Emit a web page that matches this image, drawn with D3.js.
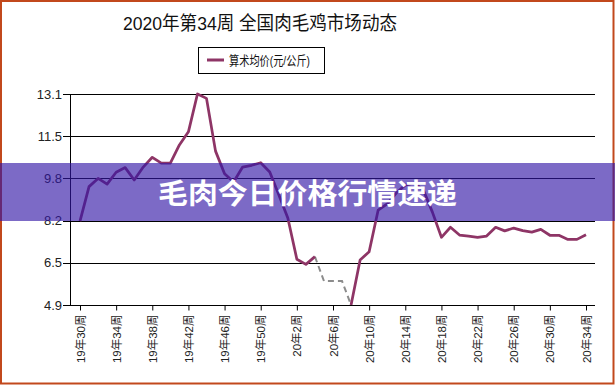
<!DOCTYPE html>
<html>
<head>
<meta charset="utf-8">
<script src="https://cdn.jsdelivr.net/npm/d3@7"></script>
<style>
  body { margin: 0; background: #fff; }
  svg { display: block; font-family: "Liberation Sans", Arial, "Noto Sans CJK SC", sans-serif; }
</style>
</head>
<body>
<div id="chart"></div>
<script>
const width = 615;
const height = 385;

const title = '2020年第34周 全国肉毛鸡市场动态';
const seriesName = '算术均价(元/公斤)';
const banner = '毛肉今日价格行情速递';

// weeks 19年30周 .. 19年52周, 20年1周 .. 20年34周
const weeks19 = d3.range(30, 53).map(w => `19年${w}周`);
const weeks20 = d3.range(1, 35).map(w => `20年${w}周`);
const weeks = weeks19.concat(weeks20);

const prices19 = [8.16, 9.5, 9.82, 9.6, 10.06, 10.24, 9.76, 10.26, 10.64, 10.41, 10.41, 11.12,
  11.63, 13.1, 12.93, 10.88, 10.0, 9.68, 10.26, 10.33, 10.43, 10.07, 9.18];
const prices20 = [8.28, 6.68, 6.48, 6.78, null, null, null, 4.9, 6.65, 6.97, 8.59, 8.83,
  9.25, 9.56, 9.64, 9.37, 8.51, 7.53, 7.92, 7.62, 7.58, 7.53, 7.58, 7.92, 7.78, 7.89,
  7.79, 7.73, 7.84, 7.61, 7.61, 7.45, 7.45, 7.63];
const prices = prices19.concat(prices20);

// gap weeks drawn dashed grey (20年4周 .. 20年8周)
const gapWeeks = ['20年4周', '20年5周', '20年6周', '20年7周', '20年8周'];
const gapPrices = [6.78, 5.83, 5.83, 5.83, 4.9];

const yTicks = [4.9, 6.5, 8.2, 9.8, 11.5, 13.1];

const lineColor = '#8e3566';
const plot = { left: 70, right: 595, top: 94, bottom: 305 };

const svg = d3.select('#chart')
  .append('svg')
  .attr('width', width)
  .attr('height', height)

const xScale = d3.scalePoint()
  .domain(weeks)
  .range([80, 586])

const yScale = d3.scaleLinear()
  .domain([yTicks[0], yTicks[yTicks.length - 1]])
  .range([plot.bottom, plot.top])

// evenly spaced gridlines, labels rounded like the original
const yPos = yTicks.map((t, i) => plot.bottom - i * (plot.bottom - plot.top) / (yTicks.length - 1))

svg.append('text')
  .attr('x', 260)
  .attr('y', 29.5)
  .attr('text-anchor', 'middle')
  .attr('textLength', 274)
  .attr('lengthAdjust', 'spacingAndGlyphs')
  .style('font-size', '19px')
  .style('fill', '#111')
  .text(title)

// legend
const legend = svg.append('g')
legend.append('rect')
  .attr('x', 198.5).attr('y', 47.5)
  .attr('width', 126).attr('height', 26)
  .attr('fill', '#fff').attr('stroke', '#000')
legend.append('line')
  .attr('x1', 207).attr('x2', 224)
  .attr('y1', 60).attr('y2', 60)
  .attr('stroke', lineColor).attr('stroke-width', 3)
legend.append('text')
  .attr('x', 229).attr('y', 64.5)
  .attr('textLength', 81)
  .attr('lengthAdjust', 'spacingAndGlyphs')
  .style('font-size', '13px')
  .style('fill', '#111')
  .text(seriesName)

// gridlines + y labels
svg.selectAll('.grid')
  .data(yPos)
  .enter()
  .append('line')
  .attr('class', 'grid')
  .attr('x1', plot.left - 7)
  .attr('x2', plot.right)
  .attr('y1', d => Math.round(d) + 0.5)
  .attr('y2', d => Math.round(d) + 0.5)
  .attr('stroke', '#000')
  .attr('stroke-width', 1)

svg.selectAll('.ylabel')
  .data(yTicks)
  .enter()
  .append('text')
  .attr('class', 'ylabel')
  .attr('x', 62)
  .attr('y', (d, i) => yPos[i])
  .attr('dy', '0.36em')
  .attr('text-anchor', 'end')
  .style('font-size', '13px')
  .style('fill', '#222')
  .text(d => d3.format('.1f')(d))

svg.append('line')
  .attr('x1', plot.left + 0.5).attr('x2', plot.left + 0.5)
  .attr('y1', plot.top).attr('y2', plot.bottom)
  .attr('stroke', '#000')

// x axis
const xAxis = d3.axisBottom(xScale)
  .tickValues(weeks.filter((d, i) => i % 4 === 0))
  .tickSizeInner(5)
  .tickSizeOuter(0)

const gx = svg.append('g')
  .attr('transform', `translate(0, ${plot.bottom + 0.5})`)
  .call(xAxis)
gx.select('.domain').remove()
gx.append('line')
  .attr('x1', plot.left).attr('x2', plot.right)
  .attr('stroke', '#000')
gx.selectAll('.tick line').attr('stroke', '#000')
gx.selectAll('.tick text')
  .attr('transform', 'rotate(-90)')
  .attr('x', -9)
  .attr('y', 0)
  .attr('dy', '0.35em')
  .attr('text-anchor', 'end')
  .style('font-family', '"Liberation Sans", "Noto Sans CJK SC", sans-serif')
  .style('font-size', '11.5px')
  .style('fill', '#222')

// series
const line = d3.line()
  .defined(d => d[1] != null)
  .x(d => xScale(d[0]))
  .y(d => yScale(d[1]))

svg.append('path')
  .datum(gapWeeks.map((w, i) => [w, gapPrices[i]]))
  .attr('d', line)
  .attr('fill', 'none')
  .attr('stroke', '#8c8c8c')
  .attr('stroke-width', 2)
  .attr('stroke-dasharray', '6,4')

svg.append('path')
  .datum(weeks.map((w, i) => [w, prices[i]]))
  .attr('d', line)
  .attr('fill', 'none')
  .attr('stroke', lineColor)
  .attr('stroke-width', 2.75)
  .attr('stroke-linejoin', 'round')

// frame
svg.append('rect')
  .attr('x', 1).attr('y', 1)
  .attr('width', 612.5).attr('height', 382.5)
  .attr('fill', 'none')
  .attr('stroke', '#c2481c')
  .attr('stroke-width', 2)

// overlay banner
svg.append('rect')
  .attr('x', 0).attr('y', 163)
  .attr('width', width).attr('height', 58)
  .attr('fill', 'rgb(50, 22, 166)')
  .attr('fill-opacity', 0.64)

svg.append('text')
  .attr('x', 307.5)
  .attr('y', 194)
  .attr('dy', '0.36em')
  .attr('text-anchor', 'middle')
  .attr('textLength', 299)
  .attr('lengthAdjust', 'spacingAndGlyphs')
  .style('font-family', '"Noto Sans CJK SC", sans-serif')
  .style('font-weight', 'bold')
  .style('font-size', '28px')
  .style('fill', '#fff')
  .text(banner)
</script>
</body>
</html>
